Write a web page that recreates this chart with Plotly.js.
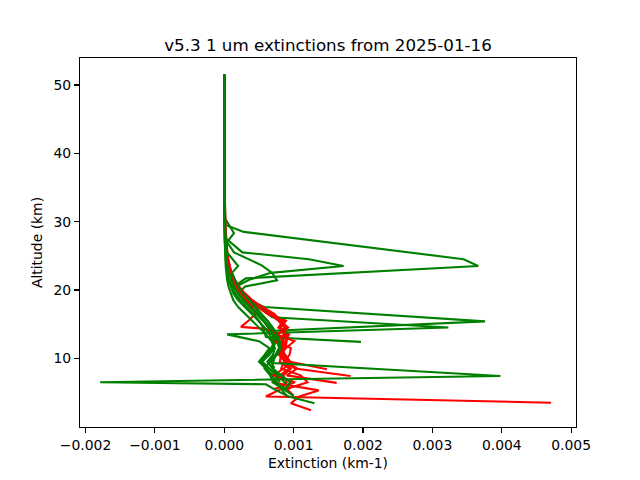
<!DOCTYPE html>
<html>
<head>
<meta charset="utf-8">
<script src="https://cdn.plot.ly/plotly-3.0.1.min.js"></script>
<style>html,body{margin:0;padding:0;background:#fff;}#chart{width:640px;height:480px;}</style>
</head>
<body>
<div id="chart"></div>
<script>
// ---- Data (altitude in km, extinction in km-1) ----
const redAlt1 = [3.5, 4.4, 5.5, 6.5, 7.5, 8.5, 9.5, 10.5, 11.5, 12.5, 13.5, 14.5, 15.5, 16.5, 17.5, 18.5, 19.5, 20.5, 21.5, 22.5, 24.5, 27.5, 30.5, 40.5, 51.5];
const redExt1 = [47.1e-4, 6.0e-4, 8.2e-4, 9.0e-4, 8.5e-4, 9.6e-4, 8.8e-4, 8.4e-4, 8.6e-4, 8.2e-4, 9.2e-4, 8.0e-4, 8.6e-4, 6.5e-4, 5.0e-4, 3.8e-4, 2.8e-4, 2.0e-4, 1.4e-4, 1.0e-4, 0.5e-4, 0.2e-4, 0.05e-4, 0.02e-4, 0.01e-4];

const redAlt2 = [2.4, 3.4, 4.4, 5.3, 6.4, 7.5, 8.5, 9.5, 10.5, 11.5, 12.5, 13.5, 14.5, 15.5, 16.5, 17.5, 18.5, 19.5, 20.5, 21.5, 23.5, 26.5, 30.5, 40.5, 51.5];
const redExt2 = [12.5e-4, 9.6e-4, 10.8e-4, 13.6e-4, 7.2e-4, 8.0e-4, 9.4e-4, 8.0e-4, 8.2e-4, 8.8e-4, 9.0e-4, 8.5e-4, 8.7e-4, 7.8e-4, 6.4e-4, 5.1e-4, 3.9e-4, 2.9e-4, 2.0e-4, 1.4e-4, 0.6e-4, 0.2e-4, 0.05e-4, 0.02e-4, 0.01e-4];

const redAlt3 = [8.4, 9.5, 10.5, 11.5, 12.5, 13.5, 14.5, 15.5, 16.5, 17.5, 18.5, 19.5, 20.5, 21.5, 22.5, 24.5, 28.5, 35.5, 51.5];
const redExt3 = [14.8e-4, 9.5e-4, 8.4e-4, 8.0e-4, 8.6e-4, 7.6e-4, 8.8e-4, 7.9e-4, 7.0e-4, 5.4e-4, 4.0e-4, 2.9e-4, 2.0e-4, 1.4e-4, 1.0e-4, 0.5e-4, 0.1e-4, 0.02e-4, 0.01e-4];

const redAlt4 = [7.4, 8.5, 9.5, 10.5, 11.5, 12.5, 13.5, 14.5, 15.5, 16.5, 17.5, 18.5, 19.5, 20.5, 21.5, 23.5, 27.5, 35.5, 51.5];
const redExt4 = [18.2e-4, 10.2e-4, 8.7e-4, 7.9e-4, 8.3e-4, 8.9e-4, 9.3e-4, 7.8e-4, 8.6e-4, 6.8e-4, 5.3e-4, 4.0e-4, 2.9e-4, 2.0e-4, 1.3e-4, 0.6e-4, 0.1e-4, 0.02e-4, 0.01e-4];

const redAlt5 = [6.4, 7.5, 8.5, 9.5, 10.5, 11.5, 12.5, 13.5, 14.5, 15.5, 16.5, 17.5, 18.5, 19.5, 20.5, 21.5, 22.5, 24.5, 28.5, 40.5, 51.5];
const redExt5 = [16.2e-4, 9.0e-4, 10.5e-4, 9.0e-4, 8.0e-4, 8.4e-4, 7.4e-4, 9.3e-4, 8.1e-4, 8.9e-4, 6.6e-4, 5.2e-4, 3.9e-4, 2.8e-4, 2.0e-4, 1.4e-4, 1.0e-4, 0.4e-4, 0.1e-4, 0.02e-4, 0.01e-4];

const redAlt6 = [5.5, 6.5, 7.5, 8.5, 9.5, 10.5, 11.5, 12.5, 13.5, 14.3, 14.6, 15.6, 16.5, 17.5, 18.5, 19.5, 20.5, 21.5, 22.5, 24.5, 28.5, 40.5, 51.5];
const redExt6 = [7.2e-4, 10.2e-4, 7.0e-4, 8.6e-4, 9.5e-4, 8.8e-4, 8.1e-4, 8.5e-4, 7.8e-4, 6.0e-4, 2.4e-4, 3.6e-4, 4.5e-4, 4.0e-4, 3.2e-4, 2.4e-4, 1.7e-4, 1.2e-4, 0.9e-4, 0.4e-4, 0.1e-4, 0.02e-4, 0.01e-4];

const redAlt7 = [4.5, 5.5, 6.5, 7.5, 8.5, 9.5, 10.5, 11.5, 12.5, 13.5, 14.5, 15.5, 16.5, 17.5, 18.5, 19.5, 20.5, 21.5, 22.5, 25.5, 30.5, 51.5];
const redExt7 = [10.0e-4, 9.0e-4, 12.0e-4, 11.0e-4, 8.2e-4, 8.6e-4, 9.4e-4, 9.6e-4, 7.4e-4, 8.8e-4, 7.9e-4, 8.4e-4, 6.2e-4, 4.8e-4, 3.4e-4, 2.4e-4, 1.7e-4, 1.2e-4, 0.8e-4, 0.3e-4, 0.05e-4, 0.01e-4];

const redAlt8 = [9.5, 10.5, 11.5, 12.5, 13.5, 14.5, 15.5, 16.5, 17.5, 18.5, 19.5, 20.5, 21.5, 22.5, 24.5, 27.5, 35.5, 51.5];
const redExt8 = [9.2e-4, 8.0e-4, 8.9e-4, 10.1e-4, 7.6e-4, 9.2e-4, 8.1e-4, 7.2e-4, 5.5e-4, 4.0e-4, 2.9e-4, 2.1e-4, 1.5e-4, 1.0e-4, 0.6e-4, 0.2e-4, 0.05e-4, 0.01e-4];

const greenAlt1 = [8.5, 9.5, 10.5, 11.5, 12.5, 13.5, 14.5, 15.5, 16.5, 17.5, 18.5, 19.5, 20.5, 21.7, 23.5, 24.5, 28.5, 29.5, 33.5, 40.5, 51.5];
const greenExt1 = [7.2e-4, 6.8e-4, 7.4e-4, 7.9e-4, 7.6e-4, 7.2e-4, 6.6e-4, 5.8e-4, 4.9e-4, 3.8e-4, 2.9e-4, 2.0e-4, 1.4e-4, 3.1e-4, 36.6e-4, 34.5e-4, 2.8e-4, 0.2e-4, 0.05e-4, 0.02e-4, 0.01e-4];

const greenAlt2 = [6.5, 7.5, 8.5, 9.5, 10.5, 11.5, 12.5, 13.5, 14.5, 15.5, 16.5, 17.5, 18.5, 19.5, 20.5, 21.5, 22.5, 23.5, 24.5, 25.5, 27.5, 30.5, 40.5, 51.5];
const greenExt2 = [8.0e-4, 7.4e-4, 6.5e-4, 5.5e-4, 6.2e-4, 7.0e-4, 7.5e-4, 7.4e-4, 6.9e-4, 6.2e-4, 5.3e-4, 4.3e-4, 3.3e-4, 2.5e-4, 1.7e-4, 3.6e-4, 6.7e-4, 17.2e-4, 12.2e-4, 2.6e-4, 0.3e-4, 0.1e-4, 0.02e-4, 0.01e-4];

const greenAlt3 = [4.5, 5.5, 6.5, 7.5, 8.5, 9.5, 10.5, 11.5, 12.5, 13.5, 14.5, 15.5, 16.5, 17.5, 18.5, 19.5, 20.5, 21.4, 22.5, 23.6, 25.5, 27.0, 28.3, 30.5, 40.5, 51.5];
const greenExt3 = [9.0e-4, 8.2e-4, 7.6e-4, 6.8e-4, 6.0e-4, 5.2e-4, 6.0e-4, 6.8e-4, 7.2e-4, 7.0e-4, 6.4e-4, 5.6e-4, 4.6e-4, 3.6e-4, 2.7e-4, 2.0e-4, 3.0e-4, 7.6e-4, 6.9e-4, 5.4e-4, 1.4e-4, 0.4e-4, 1.4e-4, 0.1e-4, 0.02e-4, 0.01e-4];

const greenAlt4 = [5.5, 6.5, 7.5, 8.5, 9.5, 10.5, 11.5, 12.5, 14.0, 15.4, 17.5, 18.5, 19.5, 20.5, 21.5, 22.5, 24.5, 26.5, 30.5, 40.5, 51.5];
const greenExt4 = [9.5e-4, 8.6e-4, 7.8e-4, 7.0e-4, 6.3e-4, 7.4e-4, 8.0e-4, 7.8e-4, 6.4e-4, 37.6e-4, 5.8e-4, 3.4e-4, 2.4e-4, 1.6e-4, 1.1e-4, 0.8e-4, 0.4e-4, 0.2e-4, 0.05e-4, 0.02e-4, 0.01e-4];

const greenAlt5 = [7.5, 8.5, 9.5, 10.5, 11.5, 12.5, 13.5, 14.5, 16.0, 17.5, 18.5, 19.5, 20.5, 21.5, 22.5, 23.5, 25.5, 28.5, 32.5, 40.5, 51.5];
const greenExt5 = [7.0e-4, 6.0e-4, 5.0e-4, 5.8e-4, 6.5e-4, 5.0e-4, 0.4e-4, 32.3e-4, 6.9e-4, 5.0e-4, 3.9e-4, 2.9e-4, 2.1e-4, 1.5e-4, 1.1e-4, 0.7e-4, 0.3e-4, 0.1e-4, 0.03e-4, 0.02e-4, 0.01e-4];

const greenAlt6 = [12.4, 13.1, 14.5, 15.5, 16.5, 17.5, 18.5, 19.5, 20.5, 21.5, 22.5, 24.5, 26.5, 29.5, 35.5, 45.5, 51.5];
const greenExt6 = [19.7e-4, 6.0e-4, 5.6e-4, 5.0e-4, 4.2e-4, 3.2e-4, 2.3e-4, 1.6e-4, 1.1e-4, 0.7e-4, 0.5e-4, 0.3e-4, 0.1e-4, 0.05e-4, 0.02e-4, 0.01e-4, 0.01e-4];

const greenAlt7 = [3.4, 4.4, 5.3, 6.2, 6.5, 7.4, 9.3, 10.5, 11.5, 12.5, 13.5, 14.5, 15.5, 16.5, 17.5, 18.5, 19.5, 20.5, 21.5, 23.5, 25.5, 27.5, 30.5, 40.5, 51.5];
const greenExt7 = [13.0e-4, 9.3e-4, 7.5e-4, 6.0e-4, -17.9e-4, 39.8e-4, 7.0e-4, 7.4e-4, 8.0e-4, 7.7e-4, 7.1e-4, 6.4e-4, 5.6e-4, 4.7e-4, 3.7e-4, 2.8e-4, 2.0e-4, 1.4e-4, 1.0e-4, 0.5e-4, 0.3e-4, 0.1e-4, 0.05e-4, 0.02e-4, 0.01e-4];

const greenAlt8 = [4.5, 5.5, 6.5, 7.5, 8.5, 9.5, 10.5, 11.5, 12.5, 13.5, 14.5, 15.5, 16.5, 17.5, 18.5, 19.5, 20.5, 21.5, 22.5, 24.5, 27.5, 32.5, 51.5];
const greenExt8 = [10.0e-4, 8.5e-4, 7.0e-4, 7.8e-4, 6.4e-4, 5.4e-4, 6.5e-4, 7.2e-4, 7.0e-4, 6.5e-4, 5.8e-4, 4.9e-4, 3.9e-4, 2.9e-4, 2.0e-4, 1.3e-4, 0.9e-4, 0.6e-4, 0.4e-4, 0.2e-4, 0.05e-4, 0.02e-4, 0.01e-4];

const greenAlt9 = [5.5, 6.5, 7.5, 8.5, 9.5, 10.5, 11.5, 12.5, 13.5, 14.5, 15.5, 16.5, 17.5, 18.5, 19.5, 20.5, 21.5, 23.5, 26.5, 30.5, 51.5];
const greenExt9 = [8.8e-4, 9.5e-4, 8.2e-4, 7.0e-4, 6.2e-4, 7.0e-4, 7.3e-4, 6.8e-4, 6.0e-4, 5.0e-4, 4.0e-4, 3.0e-4, 2.0e-4, 1.3e-4, 0.9e-4, 0.6e-4, 0.4e-4, 0.2e-4, 0.1e-4, 0.03e-4, 0.01e-4];

const greenAlt10 = [5.5, 6.5, 7.5, 8.5, 9.5, 10.5, 11.5, 12.5, 13.5, 14.5, 15.5, 16.5, 17.5, 18.5, 19.5, 20.5, 21.5, 22.5, 23.5, 25.5, 29.5, 51.5];
const greenExt10 = [9.0e-4, 7.0e-4, 6.6e-4, 5.8e-4, 6.6e-4, 7.6e-4, 8.2e-4, 8.0e-4, 7.6e-4, 7.0e-4, 6.2e-4, 5.4e-4, 4.5e-4, 3.6e-4, 2.7e-4, 2.0e-4, 1.5e-4, 1.1e-4, 2.0e-4, 0.4e-4, 0.05e-4, 0.01e-4];

const xTickVals = [-0.002, -0.001, 0, 0.001, 0.002, 0.003, 0.004, 0.005];
const xTickText = ['\u22120.002', '\u22120.001', '0.000', '0.001', '0.002', '0.003', '0.004', '0.005'];
const yTickVals = [10, 20, 30, 40, 50];

// ---- Traces ----
const redProfiles = [[redAlt1, redExt1], [redAlt2, redExt2], [redAlt3, redExt3], [redAlt4, redExt4],
                     [redAlt5, redExt5], [redAlt6, redExt6], [redAlt7, redExt7], [redAlt8, redExt8]];
const greenProfiles = [[greenAlt1, greenExt1], [greenAlt2, greenExt2], [greenAlt3, greenExt3], [greenAlt4, greenExt4],
                       [greenAlt5, greenExt5], [greenAlt6, greenExt6], [greenAlt7, greenExt7], [greenAlt8, greenExt8],
                       [greenAlt9, greenExt9], [greenAlt10, greenExt10]];

function mk(p, color) {
  return {type: 'scatter', mode: 'lines', x: p[1], y: p[0],
          line: {color: color, width: 2.1}, hoverinfo: 'skip', showlegend: false};
}
const traces = [];
const n = Math.max(redProfiles.length, greenProfiles.length);
for (let i = 0; i < n; i++) {
  if (i < redProfiles.length) traces.push(mk(redProfiles[i], '#ff0000'));
  if (i < greenProfiles.length) traces.push(mk(greenProfiles[i], '#008000'));
}

const font = {family: 'DejaVu Sans, sans-serif', color: '#000000'};
const layout = {
  width: 640, height: 480,
  margin: {l: 80, r: 64, t: 58, b: 53, pad: 0},
  paper_bgcolor: '#ffffff', plot_bgcolor: '#ffffff',
  font: Object.assign({size: 13.9}, font),
  title: {text: 'v5.3 1 um extinctions from 2025-01-16', font: Object.assign({size: 16.7}, font),
          xref: 'paper', x: 0.5, xanchor: 'center', yref: 'paper', y: 1, yanchor: 'bottom', pad: {b: 7}},
  xaxis: {range: [-0.00208, 0.00507], tickvals: xTickVals, ticktext: xTickText,
          showgrid: false, zeroline: false, showline: true, mirror: true, linecolor: '#000', linewidth: 1.1,
          ticks: 'outside', ticklen: 5, tickwidth: 1.1, tickcolor: '#000',
          tickfont: Object.assign({size: 13.9}, font),
          title: {text: 'Extinction (km-1)', font: Object.assign({size: 13.9}, font), standoff: 6},
          automargin: false},
  yaxis: {range: [-0.06, 53.95], tickvals: yTickVals,
          showgrid: false, zeroline: false, showline: true, mirror: true, linecolor: '#000', linewidth: 1.1,
          ticks: 'outside', ticklen: 5, tickwidth: 1.1, tickcolor: '#000',
          tickfont: Object.assign({size: 13.9}, font),
          title: {text: 'Altitude (km)', font: Object.assign({size: 13.9}, font), standoff: 7},
          automargin: false},
  showlegend: false
};
Plotly.newPlot('chart', traces, layout, {staticPlot: true, displayModeBar: false});
</script>
</body>
</html>
